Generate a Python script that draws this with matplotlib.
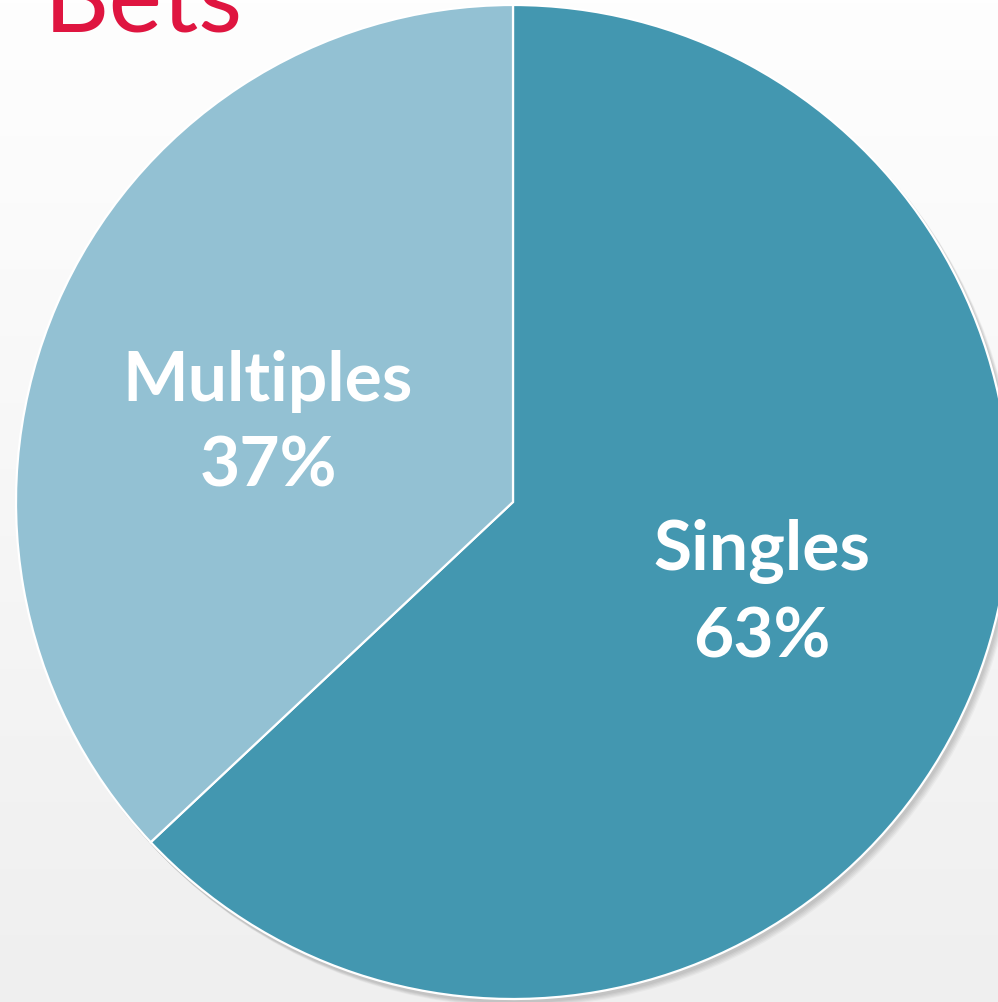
import numpy as np
import matplotlib
matplotlib.use("Agg")
import matplotlib.pyplot as plt
from matplotlib.patches import Circle

categories = ["Singles", "Multiples"]
shares = [63, 37]
colors = ["#4397B0", "#93C1D3"]
title = "Bets"

W, H = 998, 1003
fig = plt.figure(figsize=(W / 100, H / 100), dpi=100)
ax = fig.add_axes([0, 0, 1, 1])
ax.set_xlim(0, W)
ax.set_ylim(0, H)
ax.set_aspect("equal")
ax.axis("off")

# background gradient
grad = np.linspace(0, 1, 256).reshape(-1, 1)
top = np.array([0xEF, 0xEF, 0xEF]) / 255
bot = np.array([0xFE, 0xFE, 0xFE]) / 255
img = top + (bot - top) * grad[..., None]
ax.imshow(img, extent=[0, W, H, 0], aspect="auto", zorder=0)

cx, cy, r = 513, 500, 497

# soft shadow
for i, a in enumerate([0.04, 0.04, 0.04, 0.04, 0.03]):
    ax.add_patch(Circle((cx + 2 + i, cy - 3 - i), r + 1, color="black", alpha=a,
                        lw=0, zorder=1))

wedges, texts, autotexts = ax.pie(
    shares, colors=colors, startangle=90, counterclock=False,
    center=(cx, cy), radius=r, frame=True,
    autopct=lambda p: "", pctdistance=0.53,
    wedgeprops=dict(edgecolor="white", linewidth=1.6),
)
for w in wedges:
    w.set_zorder(2)
ax.set_xlim(0, W)
ax.set_ylim(0, H)
ax.axis("off")

label_pos = [(762, H - 594), (268, H - 424)]
for cat, val, (x, y) in zip(categories, shares, label_pos):
    ax.text(x, y, f"{cat}\n{val}%", ha="center", va="center", color="white",
            fontsize=50, fontweight="bold", family=["Lato", "DejaVu Sans"],
            linespacing=1.45, zorder=5)

ax.text(44, H - 31, title, ha="left", va="baseline", color="#DF1540",
        fontsize=73, family=["Lato", "DejaVu Sans"], zorder=5)

fig.savefig("out.png", dpi=100)
